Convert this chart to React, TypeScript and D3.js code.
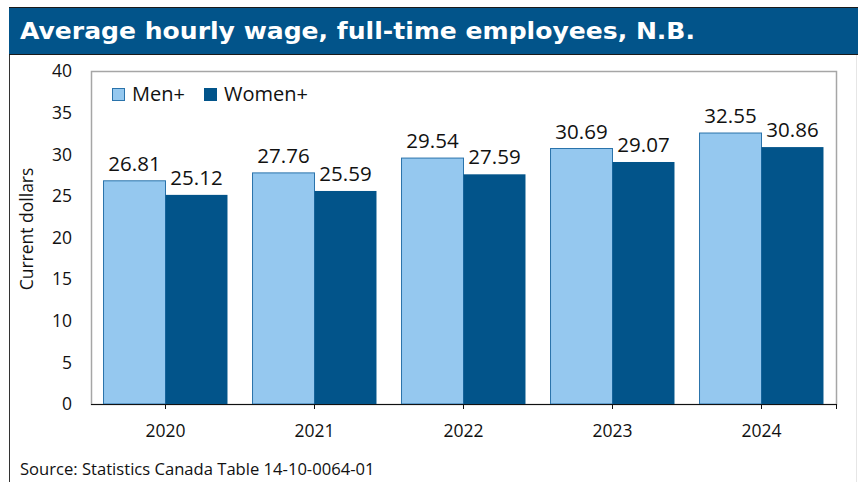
import * as d3 from "d3";

const years = ["2020", "2021", "2022", "2023", "2024"];
const men = [26.81, 27.76, 29.54, 30.69, 32.55];
const women = [25.12, 25.59, 27.59, 29.07, 30.86];
const seriesNames = ["Men+", "Women+"];
const yTicks = [0, 5, 10, 15, 20, 25, 30, 35, 40];

const DARK = "#02548A";
const LIGHT = "#95C8EF";
const FONT = "'Open Sans', 'Noto Sans', sans-serif";

export default function App() {
  const width = 858;
  const height = 482;
  const plot = { left: 91, right: 836, top: 71, bottom: 404 };

  const x0 = d3
    .scaleBand<string>()
    .domain(years)
    .range([plot.left, plot.right])
    .paddingInner(0.168)
    .paddingOuter(0.084);

  const x1 = d3
    .scaleBand<string>()
    .domain(seriesNames)
    .range([0, x0.bandwidth()]);

  const y = d3.scaleLinear().domain([0, 40]).range([plot.bottom, plot.top]);

  const rows = years.map((yr, i) => ({
    year: yr,
    vals: [
      { key: seriesNames[0], v: men[i], color: LIGHT },
      { key: seriesNames[1], v: women[i], color: DARK },
    ],
  }));

  const center = (yr: string) => (x0(yr) as number) + x0.bandwidth() / 2;

  return (
    <svg
      width={width}
      height={height}
      style={{ position: "absolute", left: 0, top: 0, background: "#fff" }}
      fontFamily={FONT}
    >
      {/* frame */}
      <line x1={9.5} x2={9.5} y1={7} y2={height} stroke="#333" />
      <line x1={856.5} x2={856.5} y1={55} y2={height} stroke="#e6e6e6" />

      {/* header */}
      <rect x={9} y={7} width={width - 9} height={48} fill={DARK} />
      <line x1={9} x2={width} y1={7.5} y2={7.5} stroke="#1a1a1a" />
      <line x1={9} x2={width} y1={54.5} y2={54.5} stroke="#1a1a1a" />
      <text
        x={20}
        y={39}
        fill="#fff"
        fontFamily="'DejaVu Sans', sans-serif"
        fontWeight="bold"
        fontSize={23}
        textLength={675}
        lengthAdjust="spacingAndGlyphs"
      >
        Average hourly wage, full-time employees, N.B.
      </text>

      {/* plot frame */}
      <rect
        x={plot.left + 0.5}
        y={plot.top + 0.5}
        width={plot.right - plot.left}
        height={plot.bottom - plot.top}
        fill="none"
        stroke="#a6a6a6"
        strokeWidth={1.5}
      />

      {/* bars */}
      {rows.map((r) => (
        <g key={r.year}>
          {r.vals.map((d) => {
            const bx = (x0(r.year) as number) + (x1(d.key) as number);
            const bw = x1.bandwidth();
            return (
              <g key={d.key}>
                <rect
                  x={bx}
                  y={y(d.v)}
                  width={bw}
                  height={plot.bottom - y(d.v)}
                  fill={d.color}
                  stroke={d.key === "Men+" ? "#2a73ab" : "none"}
                  strokeWidth={1}
                />
                <text
                  x={bx + bw / 2}
                  y={y(d.v) - 10}
                  textAnchor="middle"
                  fontSize={20.5}
                  fill="#111"
                >
                  {d.v.toFixed(2)}
                </text>
              </g>
            );
          })}
        </g>
      ))}

      {/* x axis */}
      <line
        x1={plot.left}
        x2={plot.right + 1}
        y1={plot.bottom + 0.5}
        y2={plot.bottom + 0.5}
        stroke="#111"
        strokeWidth={1.2}
      />
      {years.map((yr) => (
        <g key={yr}>
          <line
            x1={center(yr)}
            x2={center(yr)}
            y1={plot.bottom}
            y2={plot.bottom + 5}
            stroke="#111"
          />
          <text
            x={center(yr)}
            y={437}
            textAnchor="middle"
            fontSize={17.5}
            fill="#111"
          >
            {yr}
          </text>
        </g>
      ))}
      <line
        x1={plot.right + 0.5}
        x2={plot.right + 0.5}
        y1={plot.bottom}
        y2={plot.bottom + 5}
        stroke="#111"
      />

      {/* y axis labels */}
      {yTicks.map((t) => (
        <text
          key={t}
          x={72}
          y={y(t)}
          dy="0.36em"
          textAnchor="end"
          fontSize={17.5}
          fill="#111"
        >
          {t}
        </text>
      ))}
      <text
        transform={`translate(33, 229) rotate(-90)`}
        textAnchor="middle"
        fontSize={17.5}
        fill="#111"
      >
        Current dollars
      </text>

      {/* legend */}
      {seriesNames.map((s, i) => {
        const lx = i === 0 ? 112 : 204;
        return (
          <g key={s}>
            <rect
              x={lx + 0.5}
              y={88.5}
              width={12}
              height={12}
              fill={i === 0 ? LIGHT : DARK}
              stroke={i === 0 ? "#2a73ab" : DARK}
            />
            <text x={lx + 20} y={101} fontSize={20} fill="#111">
              {s}
            </text>
          </g>
        );
      })}

      {/* source */}
      <text x={20} y={475} fontSize={16.6} fill="#111">
        Source: Statistics Canada Table 14-10-0064-01
      </text>
    </svg>
  );
}
